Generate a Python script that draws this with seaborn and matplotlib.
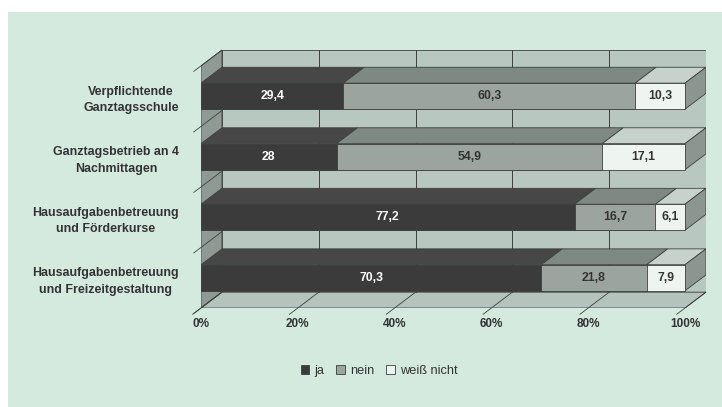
import matplotlib
matplotlib.use("Agg")
import matplotlib.pyplot as plt
from matplotlib.patches import Polygon, Rectangle, Patch
import pandas as pd
import seaborn as sns

# Survey data: share of answers per offer (percent)
categories = [
    "Verpflichtende\nGanztagsschule",
    "Ganztagsbetrieb an 4\nNachmittagen",
    "Hausaufgabenbetreuung\nund Förderkurse",
    "Hausaufgabenbetreuung\nund Freizeitgestaltung",
]
ja = [29.4, 28, 77.2, 70.3]
nein = [60.3, 54.9, 16.7, 21.8]
weiss_nicht = [10.3, 17.1, 6.1, 7.9]
series_names = ["ja", "nein", "weiß nicht"]
x_ticks = [0, 20, 40, 60, 80, 100]
x_tick_labels = ["0%", "20%", "40%", "60%", "80%", "100%"]

sns.set_style("white")
plt.rcParams["font.family"] = ["Liberation Sans", "DejaVu Sans"]

BG = "#d5eade"
WALL = "#b8c8c0"
SIDE = "#8f9a95"
FLOOR = "#b4c4bc"
LINE = "#3c403e"
TEXT = "#333333"
front_colors = ["#3b3b3b", "#9ba49f", "#eef5f1"]
top_colors = ["#474747", "#7f8984", "#c8d2cd"]
END_SIDE = "#8c9691"
FS = 8.5

# pseudo-3D depth in data units (x: percent, y: category slots)
DX = 4.34
DY = 0.262
BAR_W = 0.43

fig = plt.figure(figsize=(7.22, 4.07), dpi=100, facecolor="white")
fig.patches.append(Rectangle((8 / 722, 0), 1, 1 - 12 / 407, transform=fig.transFigure,
                             facecolor=BG, edgecolor="none", zorder=-10))
ax = fig.add_axes([201 / 722, 1 - 308 / 407, 505 / 722, 258 / 407])
ax.set_facecolor("none")

df = pd.DataFrame({"kategorie": categories, "ja": ja, "nein": nein, "weiss_nicht": weiss_nicht})
df["c1"] = df["ja"]
df["c2"] = df["ja"] + df["nein"]
df["c3"] = df["c2"] + df["weiss_nicht"]

# stacked front faces: draw the cumulative totals from the outside in
for col, color in zip(["c3", "c2", "c1"], front_colors[::-1]):
    sns.barplot(data=df, x=col, y="kategorie", orient="y", color=color, saturation=1,
                width=BAR_W, edgecolor=LINE, linewidth=0.6, errorbar=None, ax=ax, zorder=2)

n = len(categories)
y_lo, y_hi = -0.5, n - 0.5

# back wall with vertical gridlines
ax.add_patch(Rectangle((DX, y_lo - DY), 100, n, facecolor=WALL, edgecolor=LINE, lw=0.6, zorder=0.2))
for xt in x_ticks[1:-1]:
    ax.plot([xt + DX, xt + DX], [y_hi - DY, y_lo - DY], color=LINE, lw=0.7, zorder=0.4)

# left side wall
ax.add_patch(Polygon([(0, y_hi), (0, y_lo), (DX, y_lo - DY), (DX, y_hi - DY)],
                     facecolor=SIDE, edgecolor=LINE, lw=0.6, zorder=0.3))
for yb in [y_lo + k for k in range(n + 1)]:
    ax.plot([-0.35 * DX, DX], [yb + 0.35 * DY, yb - DY], color=LINE, lw=0.6,
            zorder=0.5, clip_on=False)

# floor with receding gridlines
ax.add_patch(Polygon([(0, y_hi), (100, y_hi), (100 + DX, y_hi - DY), (DX, y_hi - DY)],
                     facecolor=FLOOR, edgecolor=LINE, lw=0.6, zorder=0.3))
for xt in x_ticks:
    ax.plot([xt - 0.4 * DX, xt + DX], [y_hi + 0.4 * DY, y_hi - DY], color=LINE, lw=0.6,
            zorder=0.5, clip_on=False)

# top faces, end caps and value labels
for i in range(n):
    vals = [ja[i], nein[i], weiss_nicht[i]]
    yt = i - BAR_W / 2
    yb = i + BAR_W / 2
    left = 0
    for k, v in enumerate(vals):
        right = left + v
        ax.add_patch(Polygon([(left, yt), (right, yt), (right + DX, yt - DY), (left + DX, yt - DY)],
                             facecolor=top_colors[k], edgecolor=LINE, lw=0.6, zorder=1.5))
        label = f"{v:g}".replace(".", ",")
        ax.text(left + v / 2, i, label, ha="center", va="center", fontsize=FS + 0.3,
                fontweight="bold", color="white" if k == 0 else TEXT, zorder=3)
        left = right
    ax.add_patch(Polygon([(left, yt), (left, yb), (left + DX, yb - DY), (left + DX, yt - DY)],
                         facecolor=END_SIDE, edgecolor=LINE, lw=0.6, zorder=1.5))

ax.set_xlim(0, 505 / 4.84)
ax.set_ylim(y_hi, y_lo - DY)
for s in ax.spines.values():
    s.set_visible(False)

ax.set_xticks(x_ticks, x_tick_labels)
ax.set_yticks(range(n), categories)
ax.tick_params(axis="x", length=0, pad=7, labelsize=FS, labelcolor=TEXT)
ax.tick_params(axis="y", length=0, pad=16, labelsize=8.9, labelcolor=TEXT)
for lab in ax.get_xticklabels() + ax.get_yticklabels():
    lab.set_fontweight("bold")
for lab in ax.get_yticklabels():
    lab.set_multialignment("center")
    lab.set_linespacing(1.5)
ax.set_xlabel("")
ax.set_ylabel("")

handles = [Patch(facecolor=c, edgecolor=LINE, lw=0.6, label=name)
           for c, name in zip(front_colors, series_names)]
fig.legend(handles=handles, loc="center", bbox_to_anchor=(379 / 722, 1 - 371 / 407), ncol=3,
           frameon=False, handlelength=0.7, handleheight=0.7, handletextpad=0.4,
           columnspacing=0.9, prop={"size": 9.2}, labelcolor=TEXT)

fig.savefig("out.png", dpi=100, facecolor=fig.get_facecolor())
